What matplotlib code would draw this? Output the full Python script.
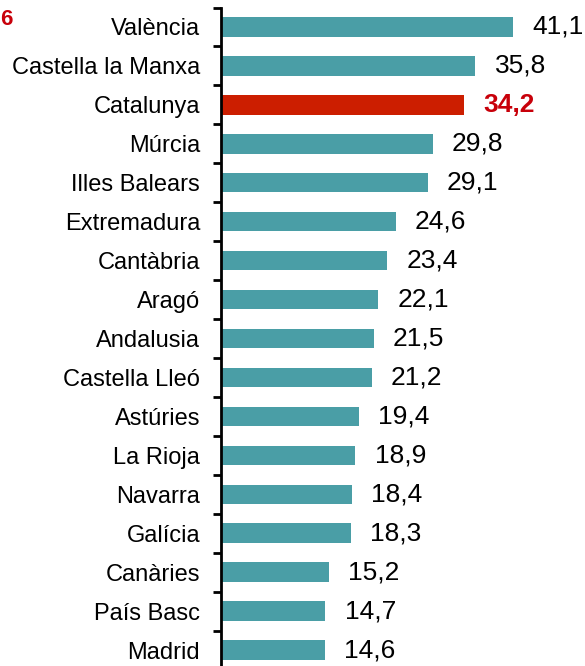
import matplotlib
matplotlib.use("Agg")
import matplotlib.pyplot as plt
import numpy as np

regions = ["València", "Castella la Manxa", "Catalunya", "Múrcia", "Illes Balears",
           "Extremadura", "Cantàbria", "Aragó", "Andalusia", "Castella Lleó",
           "Astúries", "La Rioja", "Navarra", "Galícia", "Canàries", "País Basc", "Madrid"]
values = [41.1, 35.8, 34.2, 29.8, 29.1, 24.6, 23.4, 22.1, 21.5, 21.2,
          19.4, 18.9, 18.4, 18.3, 15.2, 14.7, 14.6]
highlight = "Catalunya"

plt.rcParams['font.family'] = ['Liberation Sans', 'DejaVu Sans']

teal = "#4A9EA6"
red = "#CC1E00"
red_text = "#C8000A"

fig = plt.figure(figsize=(5.85, 6.66), dpi=100)
W, H = 585, 666
left = 221 / W
top = 1 - 7.5 / H
bottom = -3.5 / H
right = 576 / W
ax = fig.add_axes([left, bottom, right - left, top - bottom])

n = len(regions)
y = np.arange(n)
colors = [red if r == highlight else teal for r in regions]
ax.barh(y, values, height=0.5, color=colors, edgecolor='none')

ax.set_ylim(n - 0.5, -0.5)
ax.set_xlim(0, 50)

for yi, v, r in zip(y, values, regions):
    txt = f"{v:.1f}".replace(".", ",")
    if r == highlight:
        ax.annotate(txt, (v, yi), xytext=(14, 0), textcoords='offset points',
                    va='center', ha='left', fontsize=19, fontweight='bold', color=red_text)
    else:
        ax.annotate(txt, (v, yi), xytext=(14, 0), textcoords='offset points',
                    va='center', ha='left', fontsize=19, color='black')

ax.set_yticks(y)
ax.set_yticklabels(regions, fontsize=17)
ax.set_yticks(np.arange(-0.5, n, 1.0), minor=True)
ax.tick_params(axis='y', which='major', length=0, pad=15)
ax.tick_params(axis='y', which='minor', length=6, width=2, direction='out', color='black')
ax.set_xticks([])

for s in ['top', 'right', 'bottom']:
    ax.spines[s].set_visible(False)
ax.spines['left'].set_linewidth(2)
ax.spines['left'].set_color('black')

fig.text(0.5 / W, 1 - 19.5 / H, "6", color=red_text, fontsize=16, fontweight='bold',
         ha='left', va='center')

fig.savefig("out.png", dpi=100)
